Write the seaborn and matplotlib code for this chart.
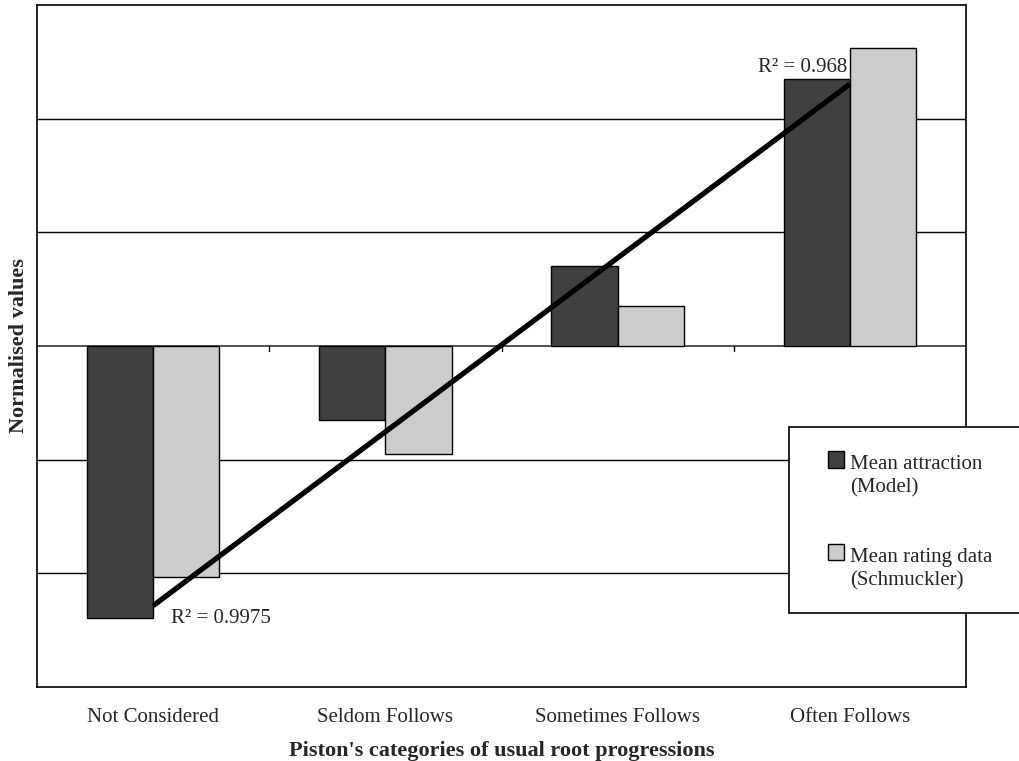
import matplotlib
matplotlib.use("Agg")
import matplotlib.pyplot as plt
from matplotlib.patches import Rectangle, Patch
from matplotlib.legend_handler import HandlerPatch
import numpy as np
import pandas as pd
import seaborn as sns

categories = ["Not Considered", "Seldom Follows", "Sometimes Follows", "Often Follows"]
model_attraction = [-2.39, -0.65, 0.70, 2.35]
schmuckler_rating = [-2.03, -0.95, 0.35, 2.62]
series_names = ["Mean attraction\n(Model)", "Mean rating data\n(Schmuckler)"]
series_colors = ["#404040", "#cccccc"]

trend_x = [0, 3]
trend_y = [-2.285, 2.305]
r2_labels = ["R² = 0.9975", "R² = 0.968"]

sns.set_theme(style="white")
plt.rcParams["font.family"] = ["Liberation Serif", "DejaVu Serif"]

df = pd.DataFrame({
    "category": categories * 2,
    "value": model_attraction + schmuckler_rating,
    "series": [series_names[0]] * 4 + [series_names[1]] * 4,
})

fig = plt.figure(figsize=(10.19, 7.61), dpi=100)
ax = fig.add_axes([37 / 1019, 1 - 687 / 761, (966 - 37) / 1019, (687 - 5) / 761])

sns.barplot(data=df, x="category", y="value", hue="series", order=categories,
            hue_order=series_names, palette=series_colors, width=0.57,
            edgecolor="black", linewidth=1.0, saturation=1, ax=ax, legend=False,
            zorder=3)

ax.set_xlim(-0.5, 3.5)
ax.set_ylim(-3, 3)
ax.set_yticks([])
for y in [-2, -1, 1, 2]:
    ax.axhline(y, color="black", lw=1.0, zorder=1)
ax.axhline(0, color="#333333", lw=1.2, zorder=2)

# small separators on the zero line between categories
for xb in [0.5, 1.5, 2.5]:
    ax.plot([xb, xb], [0, -0.04], color="black", lw=1.0, zorder=2)

# linear trend across the categories
ax.plot(trend_x, trend_y, color="black", lw=3.8, solid_capstyle="butt", zorder=5)
ax.text(trend_x[0] + 0.075, trend_y[0] - 0.03, r2_labels[0], fontsize=15,
        ha="left", va="top", zorder=6)
ax.text(trend_x[1] - 0.01, trend_y[1] + 0.06, r2_labels[1], fontsize=15,
        ha="right", va="bottom", zorder=6)

ax.tick_params(axis="x", length=0, pad=15, labelsize=15)
ax.set_xlabel("Piston's categories of usual root progressions", fontsize=16,
              fontweight="bold", labelpad=10)
ax.set_ylabel("Normalised values", fontsize=16, fontweight="bold", labelpad=6)

for s in ax.spines.values():
    s.set_color("black")
    s.set_linewidth(1.2)

# legend box overlapping the right edge
box = Rectangle((789 / 1019, 1 - 613 / 761), 0.4, (613 - 427) / 761,
                transform=fig.transFigure, facecolor="white", edgecolor="black",
                lw=1.2, zorder=10)
fig.patches.append(box)


def top_square(legend, orig_handle, xdescent, ydescent, width, height, fontsize):
    # square swatch sitting level with the first line of a two-line label
    side = width
    return Rectangle((-xdescent, -ydescent + height - side + 7.0), side, side)


handles = [Patch(facecolor=c, edgecolor="black", lw=1.0) for c in series_colors]
leg = fig.legend(handles, series_names, loc="upper left",
                 bbox_to_anchor=(828 / 1019, 1 - 455 / 761), frameon=False,
                 fontsize=15, handlelength=0.78, handleheight=1.9,
                 handletextpad=0.3, labelspacing=2.4, borderpad=0,
                 borderaxespad=0,
                 handler_map={Patch: HandlerPatch(patch_func=top_square)})
leg.set_zorder(11)
for t in leg.get_texts():
    t.set_linespacing(1.3)

fig.savefig("out.png", dpi=100)
